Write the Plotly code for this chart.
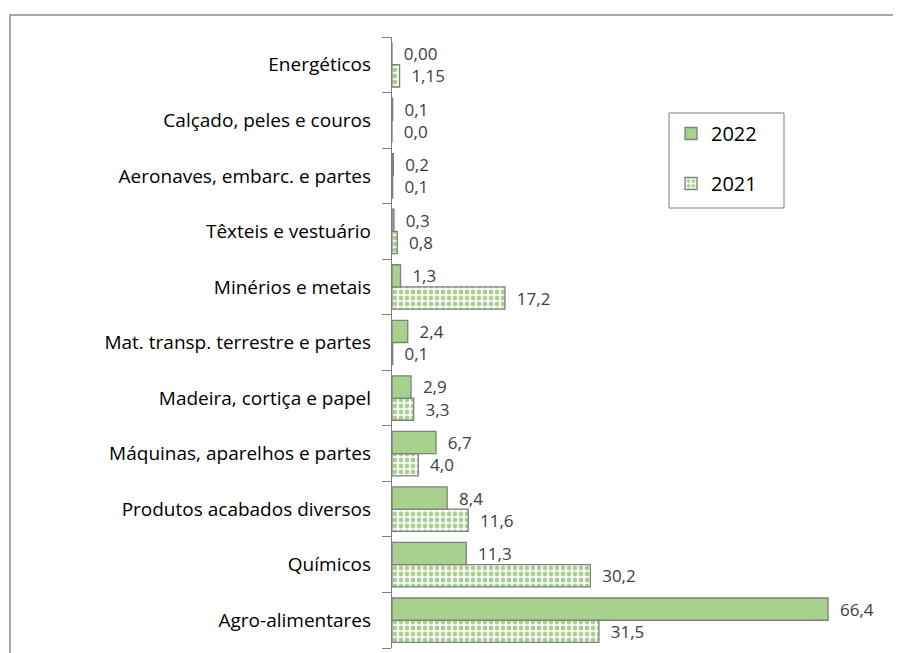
import plotly.graph_objects as go

categories = [
    "Agro-alimentares",
    "Químicos",
    "Produtos acabados diversos",
    "Máquinas, aparelhos e partes",
    "Madeira, cortiça e papel",
    "Mat. transp. terrestre e partes",
    "Minérios e metais",
    "Têxteis e vestuário",
    "Aeronaves, embarc. e partes",
    "Calçado, peles e couros",
    "Energéticos",
]
values_2022 = [66.4, 11.3, 8.4, 6.7, 2.9, 2.4, 1.3, 0.3, 0.2, 0.1, 0.00]
values_2021 = [31.5, 30.2, 11.6, 4.0, 3.3, 0.1, 17.2, 0.8, 0.1, 0.0, 1.15]
decimals = [1, 1, 1, 1, 1, 1, 1, 1, 1, 1, 2]

GREEN = "#a9d18e"
OUTLINE = "#7f7f7f"
PAD = "\u00a0\u00a0"
FONT = "Open Sans, DejaVu Sans, sans-serif"


def labels(vals):
    return [PAD + f"{v:.{d}f}".replace(".", ",") for v, d in zip(vals, decimals)]


fig = go.Figure()
fig.add_trace(go.Bar(
    y=categories, x=values_2021, orientation="h", name="2021",
    legendgroup="b", legendrank=2,
    marker=dict(color="white", line=dict(color=OUTLINE, width=1.3),
                pattern=dict(shape=".", fgcolor=GREEN, bgcolor="white",
                             size=6, solidity=0.5, fillmode="replace")),
    text=labels(values_2021), textposition="outside", constraintext="none",
    cliponaxis=False,
    textfont=dict(color="#404040", size=17, family=FONT),
))
fig.add_trace(go.Bar(
    y=categories, x=values_2022, orientation="h", name="2022",
    legendgroup="a", legendrank=1,
    marker=dict(color=GREEN, line=dict(color=OUTLINE, width=1.3)),
    text=labels(values_2022), textposition="outside", constraintext="none",
    cliponaxis=False,
    textfont=dict(color="#404040", size=17, family=FONT),
))

# page body adds an 8px margin; compensate
OFF = 8
L, R, T, B = 392 - OFF, 21, 37 - OFF, 5
W, H = 901 - OFF, 653 - OFF
pw = W - L - R
ph = H - T - B


def px_x(x):
    return (x - OFF - L) / pw


def px_y(y):
    return 1 - (y - OFF - T) / ph


fig.update_layout(
    width=W, height=H,
    margin=dict(l=L, r=R, t=T, b=B, pad=0),
    paper_bgcolor="white", plot_bgcolor="white",
    barmode="group", bargap=0.2, bargroupgap=0,
    font=dict(family=FONT, color="#000000"),
    showlegend=True,
    legend=dict(
        x=px_x(671), y=px_y(114),
        xanchor="left", yanchor="top",
        traceorder="grouped", tracegroupgap=21,
        borderwidth=0, bgcolor="rgba(0,0,0,0)",
        font=dict(size=20, color="#000000", family=FONT),
        itemwidth=30,
    ),
    shapes=[
        dict(type="rect", xref="paper", yref="paper",
             x0=px_x(10), x1=1.2, y0=-0.2, y1=px_y(15),
             line=dict(color="#8c8c8c", width=1.5), fillcolor="rgba(0,0,0,0)",
             layer="below"),
        dict(type="rect", xref="paper", yref="paper",
             x0=px_x(669), x1=px_x(784), y0=px_y(208), y1=px_y(113),
             line=dict(color=OUTLINE, width=1), fillcolor="white",
             layer="below"),
    ],
)
fig.update_xaxes(range=[0, 74.3], visible=False, showgrid=False, zeroline=False)
fig.update_yaxes(
    type="category", showline=True, linecolor=OUTLINE, linewidth=1.3,
    ticks="outside", tickson="boundaries", ticklen=9, tickcolor=OUTLINE,
    tickwidth=1.3, showgrid=False, ticklabelstandoff=16,
    tickfont=dict(size=19, color="#000000", family=FONT),
)

fig.write_html("out.html")
